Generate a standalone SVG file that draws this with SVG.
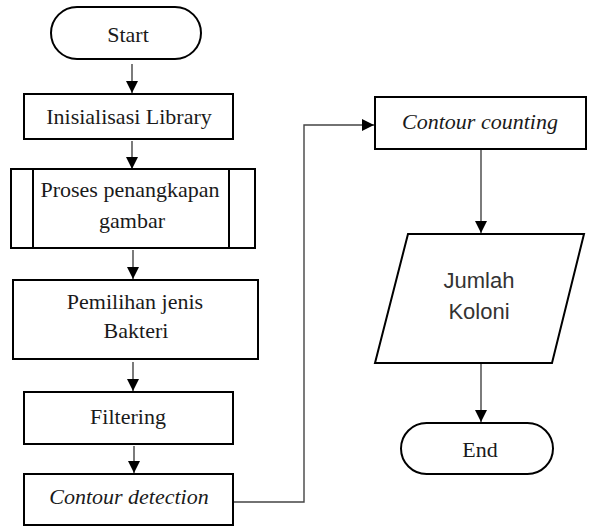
<svg xmlns="http://www.w3.org/2000/svg" width="589" height="526" viewBox="0 0 589 526">
<style>
.box{fill:#fff;stroke:#000;stroke-width:2}
.t{font-family:"Liberation Serif","Times New Roman",serif;font-size:22px;fill:#1a1a1a;text-anchor:middle}
.i{font-style:italic}
.s{font-family:"Liberation Sans",Arial,sans-serif;font-size:22px;fill:#333;text-anchor:middle}
.c{fill:none;stroke:#444;stroke-width:1.4}
</style>
<defs>
<marker id="ah" viewBox="0 0 12 12" refX="12" refY="6" markerWidth="12" markerHeight="12" markerUnits="userSpaceOnUse" orient="auto">
<path d="M0,0 L12,6 L0,12 Z" fill="#000"/>
</marker>
</defs>
<rect width="589" height="526" fill="#fff"/>
<g id="connectors">
<line class="c" x1="132" y1="64" x2="132" y2="93" marker-end="url(#ah)"/>
<line class="c" x1="132" y1="141" x2="132" y2="169" marker-end="url(#ah)"/>
<line class="c" x1="133" y1="250" x2="133" y2="279" marker-end="url(#ah)"/>
<line class="c" x1="133" y1="362" x2="133" y2="391" marker-end="url(#ah)"/>
<line class="c" x1="134" y1="446" x2="134" y2="473" marker-end="url(#ah)"/>
<polyline class="c" points="234,502 304,502 304,125 374,125" marker-end="url(#ah)"/>
<line class="c" x1="481" y1="149" x2="481" y2="233" marker-end="url(#ah)"/>
<line class="c" x1="481" y1="363" x2="481" y2="422" marker-end="url(#ah)"/>
</g>
<g id="start">
<rect class="box" x="51" y="7" width="150" height="52" rx="26"/>
<text class="t" x="128" y="42">Start</text>
</g>
<g id="inisialisasi">
<rect class="box" x="24" y="94" width="209" height="45"/>
<text class="t" x="129" y="124">Inisialisasi Library</text>
</g>
<g id="proses">
<rect class="box" x="11" y="169" width="244" height="79"/>
<line class="box" x1="33" y1="169" x2="33" y2="248"/>
<line class="box" x1="229" y1="169" x2="229" y2="248"/>
<text class="t" x="130" y="197">Proses penangkapan</text>
<text class="t" x="132" y="228">gambar</text>
</g>
<g id="pemilihan">
<rect class="box" x="13" y="280" width="245" height="79"/>
<text class="t" x="135" y="309">Pemilihan jenis</text>
<text class="t" x="136" y="338">Bakteri</text>
</g>
<g id="filtering">
<rect class="box" x="24" y="392" width="209" height="52"/>
<text class="t" x="128" y="424">Filtering</text>
</g>
<g id="contour-detection">
<rect class="box" x="24" y="474" width="209" height="51"/>
<text class="t i" x="129" y="504">Contour detection</text>
</g>
<g id="contour-counting">
<rect class="box" x="375" y="97" width="211" height="52"/>
<text class="t i" x="480" y="129">Contour counting</text>
</g>
<g id="jumlah-koloni">
<polygon class="box" points="408,234 584,234 552,363 375,363"/>
<text class="s" x="479" y="288">Jumlah</text>
<text class="s" x="479" y="319">Koloni</text>
</g>
<g id="end">
<rect class="box" x="401" y="423" width="152" height="51" rx="25.5"/>
<text class="t" x="480" y="457">End</text>
</g>
</svg>
